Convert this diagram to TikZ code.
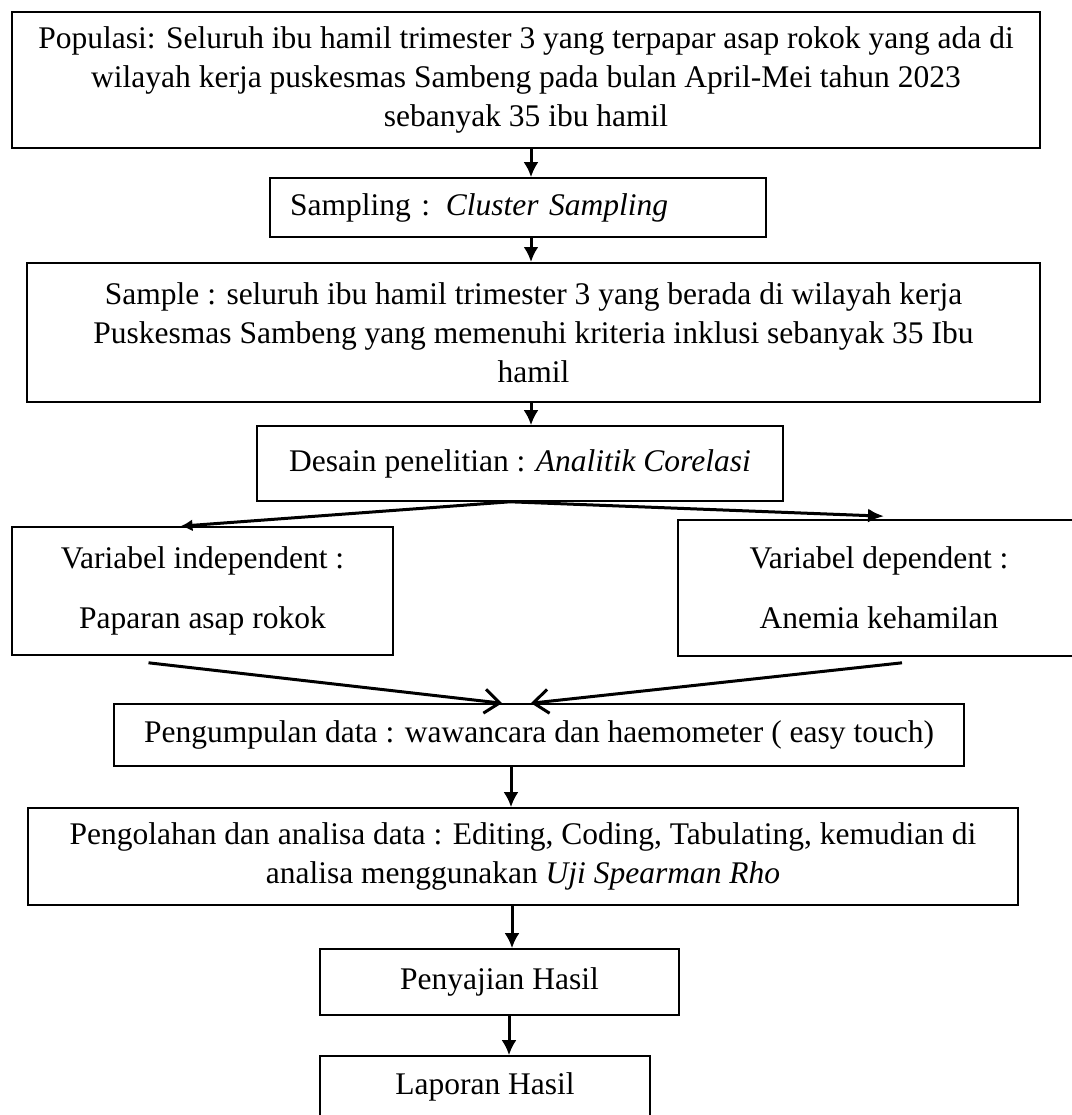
\documentclass[tikz,border=0pt]{standalone}
\usepackage{fontspec}
\setmainfont{Liberation Serif}
\usetikzlibrary{arrows.meta}

\begin{document}
\begin{tikzpicture}[x=1pt,y=-1pt,>={Latex[length=15pt,width=15pt]},line width=3pt,
  box/.style={draw,line width=1.6pt,align=center,inner sep=0pt,font=\fontsize{31.5}{39}\selectfont},
  vee/.style={-{Straight Barb[length=15pt,width=24pt]}}]
\useasboundingbox (0,0) rectangle (1071,1115);
\node[box,line width=2pt,minimum width=1028pt,minimum height=136pt] (pop) at (526,80) {Populasi: Seluruh ibu hamil trimester 3 yang terpapar asap rokok yang ada di\\wilayah kerja puskesmas Sambeng pada bulan April-Mei tahun 2023\\sebanyak 35 ibu hamil};
\node[box,align=left,inner xsep=20pt,text width=456pt,minimum height=59pt] (samp) at (518,207.5) {Sampling : \textit{Cluster Sampling}};
\node[box,line width=2pt,minimum width=1013pt,minimum height=139pt] (sample) at (533.5,332.5) {Sample : seluruh ibu hamil trimester 3 yang berada di wilayah kerja\\Puskesmas Sambeng yang memenuhi kriteria inklusi sebanyak 35 Ibu\\hamil};
\node[box,minimum width=526pt,minimum height=75pt] (desain) at (520,463.5) {Desain penelitian : \textit{Analitik Corelasi}};
\node[box,minimum width=381pt,minimum height=128pt] (indep) at (202.5,591) {Variabel independent :\\[21pt]Paparan asap rokok};
\node[box,minimum width=402pt,minimum height=136pt] (dep) at (879,588) {Variabel dependent :\\[21pt]Anemia kehamilan};
\node[box,minimum width=850pt,minimum height=62pt] (peng) at (539,735) {Pengumpulan data : wawancara dan haemometer ( easy touch)};
\node[box,minimum width=990pt,minimum height=97pt] (olah) at (523,856.5) {Pengolahan dan analisa data : Editing, Coding, Tabulating, kemudian di\\analisa menggunakan \textit{Uji Spearman Rho}};
\node[box,minimum width=359pt,minimum height=66pt] (saji) at (499.5,982) {Penyajian Hasil};
\node[box,minimum width=330pt,minimum height=62pt] (lapor) at (485,1087) {Laporan Hasil};
\draw[->] ([xshift=5pt]pop.south) -- ([xshift=5pt]pop.south |- samp.north);
\draw[->] ([xshift=13pt]samp.south) -- ([xshift=13pt]samp.south |- sample.north);
\draw[->] ([xshift=-2.5pt]sample.south) -- ([xshift=-2.5pt]sample.south |- desain.north);
\draw[-{Latex[length=12pt,width=12pt]}] ([xshift=-10pt]desain.south) -- ([xshift=-22pt]indep.north);
\draw[-{Latex[length=16pt,width=14pt]}] ([xshift=-10pt]desain.south) -- ([shift={(5pt,3pt)}]dep.north);
\draw[vee] ([shift={(-54pt,-7pt)}]indep.south) -- ([xshift=-37pt]peng.north);
\draw[vee] ([shift={(23pt,-6pt)}]dep.south) -- ([xshift=-8pt]peng.north);
\draw[->] ([xshift=-28pt]peng.south) -- ([xshift=-28pt]peng.south |- olah.north);
\draw[->] ([xshift=-11pt]olah.south) -- ([xshift=-11pt]olah.south |- saji.north);
\draw[->] ([xshift=9.5pt]saji.south) -- ([xshift=9.5pt]saji.south |- lapor.north);
\end{tikzpicture}
\end{document}
